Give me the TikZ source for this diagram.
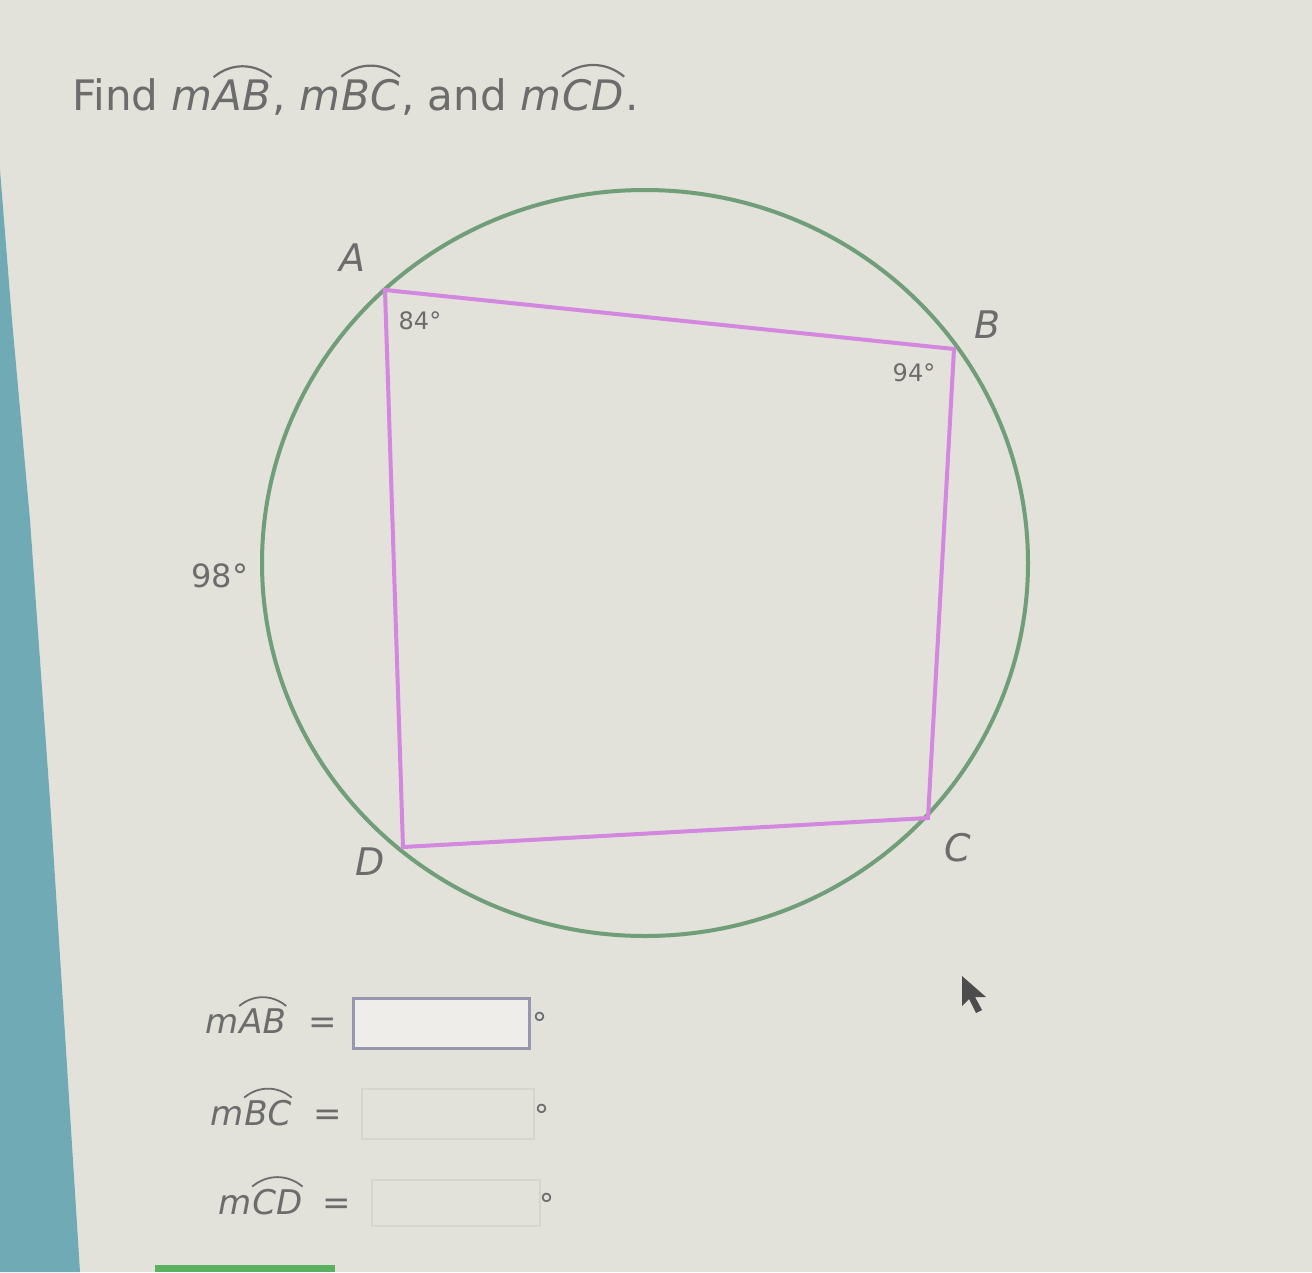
\documentclass[tikz,border=0pt]{standalone}
\usepackage{fontspec}
\usetikzlibrary{shapes.geometric}
\setmainfont{DejaVu Sans}
\definecolor{bg}{RGB}{226,225,218}
\definecolor{teal1}{RGB}{112,170,180}
\definecolor{circ}{RGB}{112,158,120}
\definecolor{quad}{RGB}{212,135,222}
\definecolor{txt}{RGB}{108,108,108}
\definecolor{boxb}{RGB}{150,150,175}
\definecolor{faint}{RGB}{214,212,205}
\newcommand{\arcover}[2]{\tikz[x=1cm,y=1cm,baseline=(t.base)]{\node[inner sep=0pt](t){\itshape #1};\draw[line width=#2] ([yshift=2pt]t.north west) to[bend left=40] ([yshift=2pt]t.north east);}}
\tikzset{
  lbl/.style={text=txt,font=\fontsize{38}{44}\selectfont\itshape,inner sep=0pt},
  ang/.style={text=txt,font=\fontsize{24}{28}\selectfont,inner sep=0pt},
  ans/.style={text=txt,font=\fontsize{34}{40}\selectfont,inner sep=0pt,anchor=base west},
  deg/.style={text=txt,font=\fontsize{30}{34}\selectfont,inner sep=0pt,anchor=base west},
}
\begin{document}
\begin{tikzpicture}[x=1pt,y=-1pt]
\useasboundingbox (0,0) rectangle (1312,1272);
\fill[bg] (0,0) rectangle (1312,1272);
\fill[teal1] (0,170) -- (12,320) -- (30,520) -- (50,800) -- (66,1050) -- (80,1272) -- (0,1272) -- cycle;
\fill[circ!80!green] (155,1265) rectangle (335,1272);
% title
\node[text=txt,font=\fontsize{42}{48}\selectfont,inner sep=0pt,anchor=base west] (title) at (72,110)
  {Find \itshape m\upshape\arcover{AB}{2.2pt}, \itshape m\upshape\arcover{BC}{2.2pt}, and \itshape m\upshape\arcover{CD}{2.2pt}.};
% circle
\node[draw=circ,line width=4pt,ellipse,minimum width=766pt,minimum height=746pt,inner sep=0pt] (circle) at (645,563) {};
% quad
\coordinate (A) at (385,290);
\coordinate (B) at (954,349);
\coordinate (C) at (928,818);
\coordinate (D) at (403,847);
\draw[quad,line width=4pt,line join=miter] (A) -- (B) -- (C) -- (D) -- cycle;
\node[lbl] (la) at (352,258) {A};
\node[lbl] (lb) at (988,325) {B};
\node[lbl] (lc) at (958,848) {C};
\node[lbl] (ld) at (370,862) {D};
\node[ang] (a84) at (420,321) {84°};
\node[ang] (a94) at (914,373) {94°};
\node[text=txt,font=\fontsize{32}{38}\selectfont,inner sep=0pt] (a98) at (220,576) {98°};
% answers
\node[ans] (r1) at (205,1033) {\itshape m\upshape\arcover{AB}{1.8pt}};
\node[ans] (e1) at (308,1033) {=};
\node[draw=boxb,line width=3pt,fill=bg!60!white,minimum width=176pt,minimum height=50pt,inner sep=0pt] (b1) at (441,1023) {};
\node[deg] (d1) at (532,1034) {°};
\node[ans] (r2) at (210,1125) {\itshape m\upshape\arcover{BC}{1.8pt}};
\node[ans] (e2) at (313,1125) {=};
\node[draw=faint,line width=1.5pt,minimum width=172pt,minimum height=50pt,inner sep=0pt] (b2) at (448,1114) {};
\node[deg] (d2) at (534,1126) {°};
\node[ans] (r3) at (218,1214) {\itshape m\upshape\arcover{CD}{1.8pt}};
\node[ans] (e3) at (322,1214) {=};
\node[draw=faint,line width=1.5pt,minimum width=168pt,minimum height=46pt,inner sep=0pt] (b3) at (456,1203) {};
\node[deg] (d3) at (539,1215) {°};
% cursor
\fill[black!70] (962,976) -- (962,1006) -- (969,999) -- (976,1013) -- (982,1010) -- (975,997) -- (986,997) -- cycle;
\end{tikzpicture}
\end{document}
